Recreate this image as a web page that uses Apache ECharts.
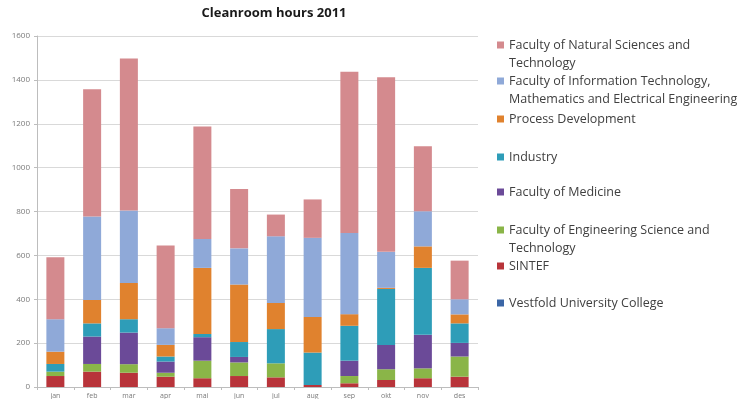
<!DOCTYPE html>
<html>
<head>
<meta charset="utf-8">
<script src="https://cdn.jsdelivr.net/npm/echarts@6/dist/echarts.min.js"></script>
<style>html,body{margin:0;padding:0;background:#fff;}#chart{width:743px;height:399px;}</style>
</head>
<body>
<div id="chart"></div>
<script>
const months = ['jan','feb','mar','apr','mai','jun','jul','aug','sep','okt','nov','des'];
const yTicks = [0,200,400,600,800,1000,1200,1400,1600];

const vestfold   = [0,0,0,0,0,0,0,0,0,0,0,0];
const sintef     = [50,70,65,47,40,50,44,9,17,32,40,47];
const engSci     = [20,35,39,18,80,62,64,0,33,49,45,92];
const medicine   = [0,125,144,51,107,25,0,0,70,111,153,62];
const industry   = [35,60,61,23,15,68,156,148,159,255,305,89];
const processDev = [56,107,165,53,301,262,119,162,53,5,98,41];
const infoTech   = [148,380,330,76,132,165,304,361,370,164,160,69];
const natSci     = [282,580,694,377,512,270,99,175,735,796,297,176];

const seriesDefs = [
  {name:'Vestfold University College', data:vestfold, color:'#3B66A6', label:'Vestfold University College'},
  {name:'SINTEF', data:sintef, color:'#B8343A', label:'SINTEF'},
  {name:'Faculty of Engineering Science and Technology', data:engSci, color:'#8AB548', label:'Faculty of Engineering Science and\nTechnology'},
  {name:'Faculty of Medicine', data:medicine, color:'#6B4A98', label:'Faculty of Medicine'},
  {name:'Industry', data:industry, color:'#2E9DB8', label:'Industry'},
  {name:'Process Development', data:processDev, color:'#E0822E', label:'Process Development'},
  {name:'Faculty of Information Technology, Mathematics and Electrical Engineering', data:infoTech, color:'#8FA9D8', label:'Faculty of Information Technology,\nMathematics and Electrical Engineering'},
  {name:'Faculty of Natural Sciences and Technology', data:natSci, color:'#D48A8E', label:'Faculty of Natural Sciences and\nTechnology'}
];

const legendTops = [45,81,119,157,192,230,266,303]; // first-line centers, top to bottom
const LH = 18.4;
const SQ = 7;
const legendOrder = seriesDefs.slice().reverse();
// square marker at the top of a taller (invisible) box, so it lines up with the first text line
const tallIcon = 'path://M0,0L' + SQ + ',0L' + SQ + ',' + SQ + 'L0,' + SQ + 'Z M0,' + (SQ + LH) + 'L0.001,' + (SQ + LH);

const chart = echarts.init(document.getElementById('chart'));
chart.setOption({
  animation:false,
  backgroundColor:'#fff',
  title:{
    text:'Cleanroom hours 2011',
    left:274, top:7, textAlign:'center', padding:0,
    textStyle:{fontFamily:'Open Sans', fontSize:13, fontWeight:'bold', color:'#1a1a1a'}
  },
  legend: legendOrder.map((s,i)=>{
    const twoLine = s.label.indexOf('\n') >= 0;
    return {
      data:[s.name],
      orient:'vertical',
      left:497,
      top: legendTops[i]-LH/2,
      padding:0,
      icon: twoLine ? tallIcon : 'rect',
      itemWidth:SQ, itemHeight: twoLine ? SQ + LH : SQ,
      itemGap:0,
      formatter: () => s.label,
      textStyle:{fontFamily:'Open Sans', fontSize:12.5, color:'#404040', lineHeight:LH}
    };
  }),
  grid:{left:37, right:265, top:36, bottom:12},
  xAxis:{
    type:'category',
    data:months,
    axisLine:{lineStyle:{color:'#bdbdbd'}},
    axisTick:{show:true, length:3, lineStyle:{color:'#bdbdbd'}},
    axisLabel:{fontSize:7, color:'#7a7a7a', margin:5, fontFamily:'Open Sans'}
  },
  yAxis:{
    type:'value',
    min:yTicks[0], max:yTicks[yTicks.length-1], interval:200,
    axisLine:{show:true, lineStyle:{color:'#bdbdbd'}},
    axisTick:{show:true, length:3, lineStyle:{color:'#bdbdbd'}},
    splitLine:{lineStyle:{color:'#d9d9d9'}},
    axisLabel:{fontSize:8, color:'#7a7a7a', margin:7, fontFamily:'Open Sans', formatter: v => String(v)}
  },
  series: seriesDefs.map(s=>({
    name:s.name, type:'bar', stack:'total', data:s.data,
    barWidth:18,
    itemStyle:{color:s.color}
  }))
});
</script>
</body>
</html>
